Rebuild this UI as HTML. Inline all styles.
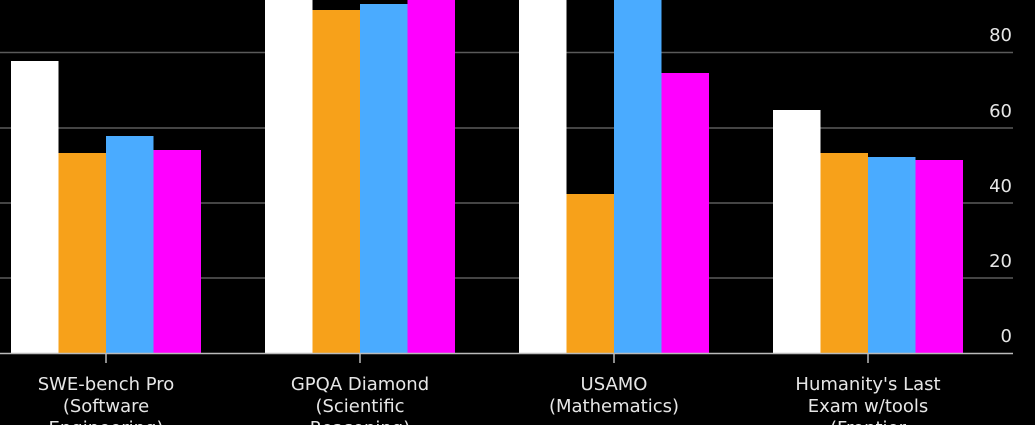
<!DOCTYPE html>
<html><head><meta charset="utf-8"><style>
html,body{margin:0;padding:0;background:#000;width:1035px;height:425px;overflow:hidden}
svg{display:block}
text{font-family:"DejaVu Sans","Liberation Sans",sans-serif;fill:#e6e6e6}
</style></head><body>
<svg width="1035" height="425" viewBox="0 0 1035 425">
<g stroke="#5a5a5a" stroke-width="1.5">
<line x1="0" y1="52.5" x2="1013" y2="52.5"/>
<line x1="0" y1="128" x2="1013" y2="128"/>
<line x1="0" y1="203" x2="1013" y2="203"/>
<line x1="0" y1="278" x2="1013" y2="278"/>
</g>
<g>
<rect x="11" y="61" width="47.5" height="292" fill="#fff"/>
<rect x="58.5" y="153" width="47.5" height="200" fill="#f7a11a"/>
<rect x="106" y="136" width="47.5" height="217" fill="#4aabff"/>
<rect x="153.5" y="150" width="47.5" height="203" fill="#ff00ff"/>

<rect x="265" y="0" width="47.5" height="353" fill="#fff"/>
<rect x="312.5" y="10" width="47.5" height="343" fill="#f7a11a"/>
<rect x="360" y="4" width="47.5" height="349" fill="#4aabff"/>
<rect x="407.5" y="0" width="47.5" height="353" fill="#ff00ff"/>

<rect x="519" y="0" width="47.5" height="353" fill="#fff"/>
<rect x="566.5" y="194" width="47.5" height="159" fill="#f7a11a"/>
<rect x="614" y="0" width="47.5" height="353" fill="#4aabff"/>
<rect x="661.5" y="73" width="47.5" height="280" fill="#ff00ff"/>

<rect x="773" y="110" width="47.5" height="243" fill="#fff"/>
<rect x="820.5" y="153" width="47.5" height="200" fill="#f7a11a"/>
<rect x="868" y="157" width="47.5" height="196" fill="#4aabff"/>
<rect x="915.5" y="160" width="47.5" height="193" fill="#ff00ff"/>
</g>
<line x1="0" y1="353.5" x2="1013" y2="353.5" stroke="#bbb" stroke-width="1.5"/>
<g stroke="#bbb" stroke-width="1.5">
<line x1="106" y1="353" x2="106" y2="363"/>
<line x1="360" y1="353" x2="360" y2="363"/>
<line x1="614" y1="353" x2="614" y2="363"/>
<line x1="868" y1="353" x2="868" y2="363"/>
</g>
<g font-size="18" text-anchor="end">
<text x="1012" y="41">80</text>
<text x="1012" y="117">60</text>
<text x="1012" y="192">40</text>
<text x="1012" y="267">20</text>
<text x="1012" y="342">0</text>
</g>
<g font-size="18" text-anchor="middle">
<text x="106" y="390">SWE-bench Pro</text>
<text x="106" y="412">(Software</text>
<text x="106" y="434">Engineering)</text>
<text x="360" y="390">GPQA Diamond</text>
<text x="360" y="412">(Scientific</text>
<text x="360" y="434">Reasoning)</text>
<text x="614" y="390">USAMO</text>
<text x="614" y="412">(Mathematics)</text>
<text x="868" y="390">Humanity's Last</text>
<text x="868" y="412">Exam w/tools</text>
<text x="868" y="434">(Frontier</text>
</g>
</svg>
</body></html>
